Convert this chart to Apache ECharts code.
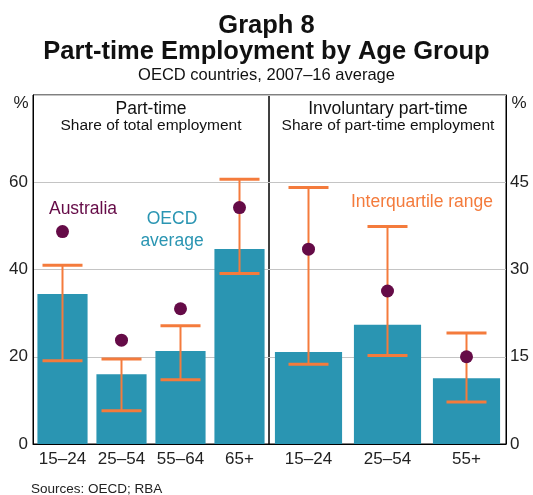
<!DOCTYPE html>
<html>
<head>
<meta charset="utf-8">
<script src="https://cdn.jsdelivr.net/npm/echarts@6/dist/echarts.min.js"></script>
<style>
  html, body { margin: 0; padding: 0; background: #fff; }
  #chart { width: 533px; height: 495px; }
</style>
</head>
<body>
<div id="chart"></div>
<script>
// part-time share of total employment (left panel)
const leftCats = ['15–24', '25–54', '55–64', '65+'];
const leftAvg = [34.4, 16.0, 21.3, 44.7];
const leftLow = [19.1, 7.6, 14.7, 39.1];
const leftHigh = [41.0, 19.5, 27.1, 60.7];
const leftAus = [48.7, 23.8, 31.0, 54.2];

// involuntary part-time, share of part-time employment (right panel)
const rightCats = ['15–24', '25–54', '55+'];
const rightAvg = [15.8, 20.5, 11.3];
const rightLow = [13.7, 15.2, 7.2];
const rightHigh = [44.1, 37.4, 19.1];
const rightAus = [33.5, 26.3, 15.0];

const leftTicks = [0, 20, 40, 60];
const rightTicks = [0, 15, 30, 45];

const TEAL = '#2a95b2';
const ORANGE = '#f47b3c';
const PURPLE = '#650b47';
const FONT = 'Liberation Sans, Arial, sans-serif';

let chart = echarts.init(document.getElementById('chart'));

function errorBar(params, api) {
  let x = api.value(0);
  let lo = api.coord([x, api.value(1)]);
  let hi = api.coord([x, api.value(2)]);
  let half = 20;
  let cap = { stroke: ORANGE, lineWidth: 3 };
  return {
    type: 'group',
    children: [
      { type: 'line', shape: { x1: lo[0], y1: lo[1], x2: hi[0], y2: hi[1] }, style: { stroke: ORANGE, lineWidth: 2 } },
      { type: 'line', shape: { x1: lo[0] - half, y1: lo[1], x2: lo[0] + half, y2: lo[1] }, style: cap },
      { type: 'line', shape: { x1: hi[0] - half, y1: hi[1], x2: hi[0] + half, y2: hi[1] }, style: cap }
    ]
  };
}

const axisText = { color: '#222', fontSize: 17, fontFamily: FONT };

// text helper for the graphic layer, centred vertically on y
function label(x, y, text, size, color, align) {
  return { type: 'text', x: x, y: y, style: { text: text, font: size + 'px ' + FONT, fill: color, align: align || 'center', verticalAlign: 'middle' } };
}

chart.setOption({
  animation: false,
  textStyle: { fontFamily: FONT },
  title: [
    { text: 'Graph 8', left: 'center', top: 8, textStyle: { fontSize: 25.5, fontWeight: 'bold', color: '#111', fontFamily: FONT } },
    { text: 'Part-time Employment by Age Group', left: 'center', top: 34, textStyle: { fontSize: 25.5, fontWeight: 'bold', color: '#111', fontFamily: FONT } },
    { text: 'OECD countries, 2007–16 average', left: 'center', top: 62, textStyle: { fontSize: 16.5, fontWeight: 'normal', color: '#111', fontFamily: FONT } }
  ],
  grid: [
    { left: 33, top: 95, width: 236, height: 349, show: true, borderColor: '#000', borderWidth: 1 },
    { left: 269, top: 95, width: 237, height: 349, show: true, borderColor: '#000', borderWidth: 1 }
  ],
  xAxis: [
    {
      type: 'category', gridIndex: 0, data: leftCats,
      axisLine: { lineStyle: { color: '#000' } },
      axisTick: { inside: true, length: 5, lineStyle: { color: '#000' } },
      axisLabel: Object.assign({ margin: 7, interval: 0, hideOverlap: false }, axisText)
    },
    {
      type: 'category', gridIndex: 1, data: rightCats,
      axisLine: { lineStyle: { color: '#000' } },
      axisTick: { inside: true, length: 5, lineStyle: { color: '#000' } },
      axisLabel: Object.assign({ margin: 7, interval: 0, hideOverlap: false }, axisText)
    }
  ],
  yAxis: [
    {
      type: 'value', gridIndex: 0, min: 0, max: 80, interval: 20,
      axisLine: { show: true, lineStyle: { color: '#000' } },
      axisTick: { show: false },
      splitLine: { lineStyle: { color: '#c4c4c4' } },
      axisLabel: Object.assign({ margin: 5, formatter: v => leftTicks.includes(v) ? String(v) : '' }, axisText)
    },
    {
      type: 'value', gridIndex: 1, position: 'right', min: 0, max: 60, interval: 15,
      axisLine: { show: true, lineStyle: { color: '#000' } },
      axisTick: { show: false },
      splitLine: { lineStyle: { color: '#c4c4c4' } },
      axisLabel: Object.assign({ margin: 4, formatter: v => rightTicks.includes(v) ? String(v) : '' }, axisText)
    }
  ],
  series: [
    { type: 'bar', xAxisIndex: 0, yAxisIndex: 0, data: leftAvg, barCategoryGap: '15%', itemStyle: { color: TEAL } },
    { type: 'custom', xAxisIndex: 0, yAxisIndex: 0, renderItem: errorBar, z: 3,
      data: leftCats.map((c, i) => [i, leftLow[i], leftHigh[i]]) },
    { type: 'scatter', xAxisIndex: 0, yAxisIndex: 0, data: leftAus, symbolSize: 13, z: 4, itemStyle: { color: PURPLE, opacity: 1 } },

    { type: 'bar', xAxisIndex: 1, yAxisIndex: 1, data: rightAvg, barCategoryGap: '15%', itemStyle: { color: TEAL } },
    { type: 'custom', xAxisIndex: 1, yAxisIndex: 1, renderItem: errorBar, z: 3,
      data: rightCats.map((c, i) => [i, rightLow[i], rightHigh[i]]) },
    { type: 'scatter', xAxisIndex: 1, yAxisIndex: 1, data: rightAus, symbolSize: 13, z: 4, itemStyle: { color: PURPLE, opacity: 1 } }
  ],
  graphic: [
    label(21, 103, '%', 17, '#222'),
    label(519, 103, '%', 17, '#222'),
    label(151, 109, 'Part-time', 17.5, '#111'),
    label(151, 126, 'Share of total employment', 15.5, '#111'),
    label(388, 109, 'Involuntary part-time', 17.5, '#111'),
    label(388, 126, 'Share of part-time employment', 15.5, '#111'),
    label(83, 209, 'Australia', 17.5, PURPLE),
    label(172, 219, 'OECD', 17.5, TEAL),
    label(172, 241, 'average', 17.5, TEAL),
    label(422, 202, 'Interquartile range', 17.5, ORANGE),
    label(31, 489, 'Sources: OECD; RBA', 13.5, '#222', 'left')
  ]
});
</script>
</body>
</html>
